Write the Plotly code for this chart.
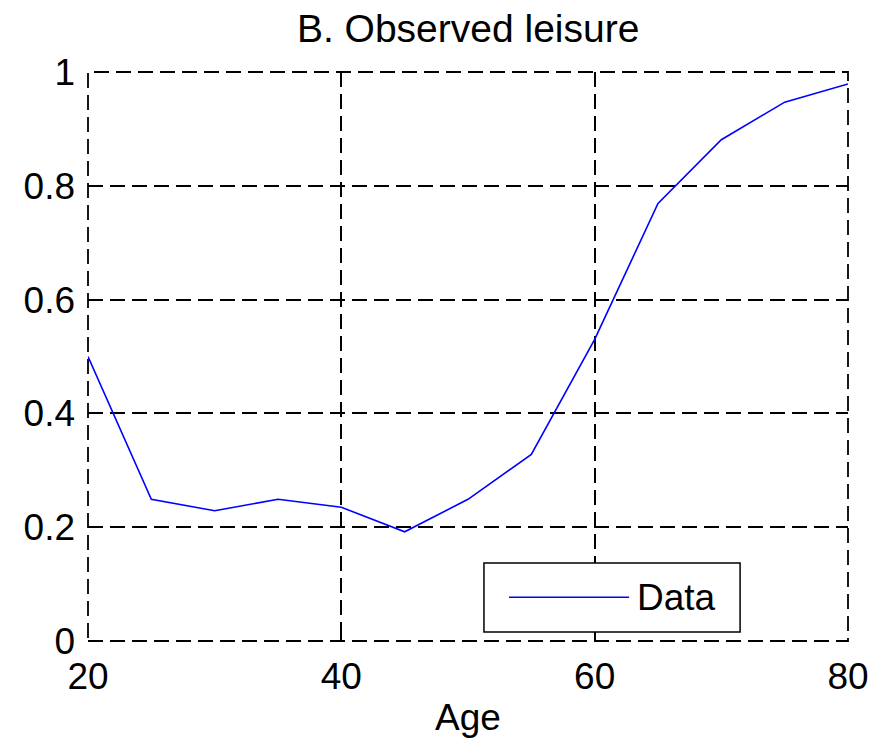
import plotly.graph_objects as go

ages = [20, 25, 30, 35, 40, 45, 50, 55, 60, 65, 70, 75, 80]
leisure = [0.500, 0.249, 0.229, 0.249, 0.235, 0.192, 0.249, 0.328, 0.530, 0.769, 0.881, 0.947, 0.979]
x_ticks = [20, 40, 60, 80]
y_ticks = [0, 0.2, 0.4, 0.6, 0.8, 1]
y_tick_text = ["0", "0.2", "0.4", "0.6", "0.8", "1"]

FONT = "Liberation Sans, Arial, sans-serif"
FS = 37
DASH = "15px,7px"

fig = go.Figure()
fig.add_trace(go.Scatter(x=ages, y=leisure, mode="lines", name="Data",
                         line=dict(color="#0000ff", width=1.6), showlegend=False))

axis_common = dict(
    showgrid=True, gridcolor="black", gridwidth=1.8, griddash=DASH,
    zeroline=False, showline=False,
    ticks="inside", ticklen=8, tickcolor="black", tickwidth=1.5,
    tickfont=dict(family=FONT, size=FS, color="black"),
    mirror="ticks",
)

fig.update_xaxes(range=[20, 80], tickvals=x_ticks, ticklabelstandoff=10,
                 title=dict(text="Age", font=dict(family=FONT, size=FS, color="black"), standoff=8),
                 **axis_common)
fig.update_yaxes(range=[0, 1], tickvals=y_ticks, ticktext=y_tick_text, ticklabelstandoff=12,
                 **axis_common)

# dashed axes box (MATLAB grid overlays the box)
fig.add_shape(type="rect", xref="paper", yref="paper", x0=0, x1=1, y0=0, y1=1,
              line=dict(color="black", width=1.8, dash=DASH), layer="below")

# legend box drawn as decoration
fig.add_shape(type="rect", xref="paper", yref="paper", x0=0.521, x1=0.858, y0=0.016, y1=0.137,
              line=dict(color="black", width=1.5), fillcolor="white", layer="above")
fig.add_shape(type="line", xref="paper", yref="paper", x0=0.554, x1=0.712, y0=0.077, y1=0.077,
              line=dict(color="#0000ff", width=1.5), layer="above")
fig.add_annotation(xref="paper", yref="paper", x=0.720, y=0.077, text="Data", showarrow=False,
                   xanchor="left", yanchor="middle",
                   font=dict(family=FONT, size=FS, color="black"))

fig.update_layout(
    width=880, height=746,
    margin=dict(l=88, r=32, t=72, b=105),
    paper_bgcolor="white", plot_bgcolor="white",
    title=dict(text="B. Observed leisure", x=0.532, xanchor="center", y=0.962, yanchor="middle",
               font=dict(family=FONT, size=39, color="black")),
)

fig.write_html("out.html")
